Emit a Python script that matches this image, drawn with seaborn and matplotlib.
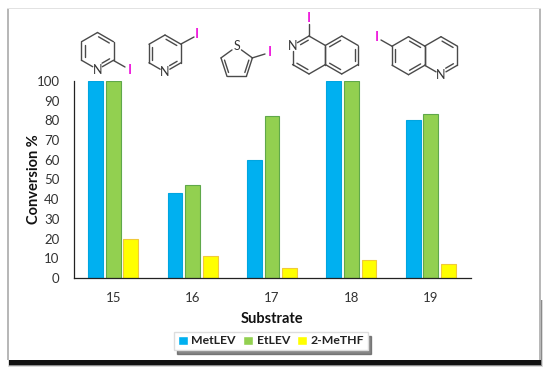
import numpy as np
import pandas as pd
import matplotlib
matplotlib.use('Agg')
import matplotlib.pyplot as plt
import seaborn as sns
from matplotlib.patches import Rectangle

# Values
substrates = ['15', '16', '17', '18', '19']
metlev = [100, 43, 60, 100, 80]
etlev = [100, 47, 82, 100, 83]
methf = [20, 11, 5, 9, 7]
solvents = ['MetLEV', 'EtLEV', '2-MeTHF']
colors = ['#00B0F0', '#92D050', '#FFFF00']
edges = ['#00A5E0', '#5FA84A', '#F0C93A']

df = pd.DataFrame({
    'Substrate': substrates * 3,
    'Conversion': metlev + etlev + methf,
    'Solvent': np.repeat(solvents, 5),
})

sns.set_style('white')
plt.rcParams['font.family'] = ['Lato', 'DejaVu Sans']

W, H = 550, 377
fig = plt.figure(figsize=(W / 100, H / 100), dpi=100)

# Overlay in pixel coordinates for the frame and the structures
bg = fig.add_axes([0, 0, 1, 1], zorder=0)
bg.set_xlim(0, W)
bg.set_ylim(H, 0)
bg.axis('off')

# Card with a dark drop shadow along the bottom
bg.add_patch(Rectangle((8, 300), 535, 67, fc='#999999', ec='none', alpha=0.35))
bg.add_patch(Rectangle((9, 300), 533, 66, fc='#555555', ec='none', alpha=0.6))
bg.add_patch(Rectangle((9, 300), 532, 65, fc='#111111', ec='none'))
bg.add_patch(Rectangle((7, 8), 534, 352, fc='#b8b8b8', ec='none'))
bg.add_patch(Rectangle((7, 8), 534, 1.2, fc='#e2e2e2', ec='none'))
bg.add_patch(Rectangle((8.5, 9.2), 530.5, 350.8, fc='white', ec='none'))

# Chart
ax = fig.add_axes([73.5 / W, 1 - 278 / H, 397 / W, 197 / H], zorder=2)
ax.patch.set_alpha(0)
sns.barplot(data=df, x='Substrate', y='Conversion', hue='Solvent', palette=colors,
            width=0.665, gap=0.15, saturation=1, errorbar=None, ax=ax)
for bars, ec in zip(ax.containers, edges):
    for b in bars:
        b.set_edgecolor(ec)
        b.set_linewidth(0.8)
ax.set_ylim(0, 100)
ax.set_yticks(range(0, 101, 10))
ax.tick_params(axis='y', length=0, pad=10, labelsize=9.5, labelcolor='#333333')
ax.tick_params(axis='x', length=0, pad=10, labelsize=9.5, labelcolor='#333333')
sns.despine(ax=ax)
for s in ['left', 'bottom']:
    ax.spines[s].set_color('#222222')
    ax.spines[s].set_linewidth(0.9)
ax.set_xlabel('Substrate', fontweight='bold', fontsize=10.5, labelpad=6, color='#111111')
ax.set_ylabel('Conversion %', fontweight='bold', fontsize=10.5, labelpad=-3, color='#111111')

leg = ax.legend(loc='center', bbox_to_anchor=(271 / W, 1 - 341 / H), bbox_transform=fig.transFigure,
                ncol=3, fontsize=8.8, frameon=True, fancybox=False,
                shadow={'color': '#555555', 'alpha': 0.7, 'ox': 2, 'oy': -3},
                handlelength=0.8, handleheight=0.8, handletextpad=0.3, columnspacing=0.6,
                borderpad=0.3, edgecolor='#dddddd', framealpha=1)
for t in leg.get_texts():
    t.set_fontweight('bold')
    t.set_color('#222222')

# Structures, on top
mol = fig.add_axes([0, 0, 1, 1], zorder=3)
mol.set_xlim(0, W)
mol.set_ylim(H, 0)
mol.axis('off')
BOND = '#4a4a4a'


def ring(cx, cy, r, n, doubles, hetero=None, het_label='N', start=-90):
    ang = np.radians(start + np.arange(n) * 360 / n)
    px = cx + r * np.cos(ang)
    py = cy + r * np.sin(ang)
    for i in range(n):
        j = (i + 1) % n
        x0, y0, x1, y1 = px[i], py[i], px[j], py[j]
        if i == hetero:
            x0, y0 = x0 + (x1 - x0) * 0.3, y0 + (y1 - y0) * 0.3
        if j == hetero:
            x1, y1 = x1 + (x0 - x1) * 0.3, y1 + (y0 - y1) * 0.3
        mol.plot([x0, x1], [y0, y1], color=BOND, lw=1.0, solid_capstyle='round')
        if i in doubles:
            a0, b0 = cx + (x0 - cx) * 0.8, cy + (y0 - cy) * 0.8
            a1, b1 = cx + (x1 - cx) * 0.8, cy + (y1 - cy) * 0.8
            a0, b0, a1, b1 = a0 + (a1 - a0) * 0.08, b0 + (b1 - b0) * 0.08, a1 + (a0 - a1) * 0.08, b1 + (b0 - b1) * 0.08
            mol.plot([a0, a1], [b0, b1], color=BOND, lw=1.0, solid_capstyle='round')
    if hetero is not None:
        mol.text(px[hetero], py[hetero], het_label, ha='center', va='center', fontsize=9, color='#333333')


def iodine(x0, y0, x1, y1, tx, ty):
    mol.plot([x0, x1], [y0, y1], color=BOND, lw=1.0)
    mol.text(tx, ty, 'I', ha='center', va='center', fontsize=10, fontweight='bold', color='#EE22DD')


# vertices go clockwise from the top
ring(97.5, 51, 18.5, 6, [0, 2, 4], hetero=3)
iodine(113.5, 60.5, 125, 67, 129.5, 70)
ring(165, 53.5, 18.5, 6, [0, 2, 4], hetero=3)
iodine(181, 44, 194, 37, 197, 34)
ring(236.7, 63, 16.5, 5, [1, 3], hetero=0, het_label='S')
iodine(252, 58, 265, 54, 269.5, 52)
ring(309, 55, 19, 6, [3, 5], hetero=5)
ring(341.7, 55, 19, 6, [1, 3, 5])
iodine(309, 24, 309, 36, 309, 18.5)
ring(408.5, 55.7, 19, 6, [0, 2, 4])
ring(441, 55.7, 19, 6, [0, 2], hetero=3)
iodine(381, 40, 392.5, 46.5, 376.7, 37.3)

fig.savefig('out.png', dpi=100)
